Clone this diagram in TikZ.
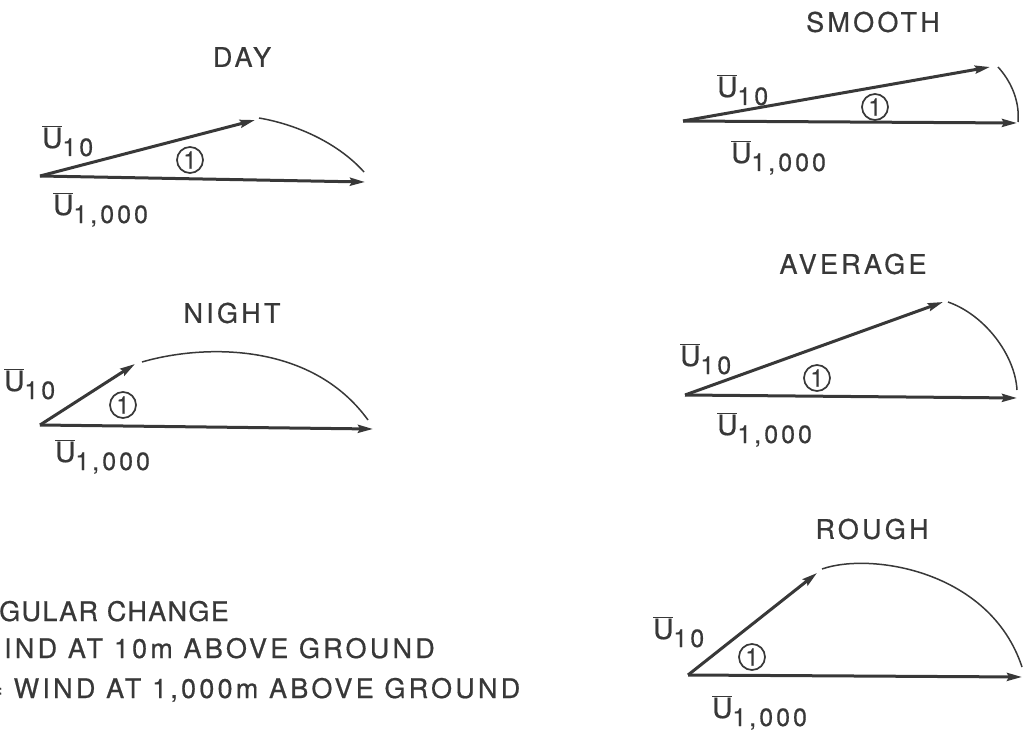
\documentclass[tikz,border=0pt]{standalone}
\usepackage{fontspec}
\setmainfont{TeX Gyre Heros}[FakeBold=0.6]
\newfontfamily\spacedfont{TeX Gyre Heros}[LetterSpace=12,FakeBold=0.6]
\newfontfamily\tightfont{TeX Gyre Heros}[LetterSpace=5,FakeBold=0.6]
\usetikzlibrary{arrows.meta}
\definecolor{ink}{rgb}{0.22,0.22,0.22}
\newcommand\Ubar[1]{\fontsize{28}{28}\selectfont$\overline{\mbox{U}}$\raisebox{-8pt}{\spacedfont\fontsize{25}{25}\selectfont #1}}
\tikzset{
  vec/.style={draw=ink, line width=3pt, -{Stealth[length=15pt,width=8pt,inset=2pt]}},
  arcline/.style={draw=ink, line width=1.5pt},
  ttl/.style={text=ink, inner sep=0, font=\spacedfont\fontsize{27}{27}\selectfont},
  lbl/.style={text=ink, inner sep=0, anchor=base west},
  ang/.style={circle, draw=ink, text=ink, line width=1.7pt, minimum size=26pt, inner sep=0pt, font=\fontsize{24}{24}\selectfont},
  legend/.style={text=ink, inner sep=0, anchor=base west, font=\spacedfont\fontsize{27}{27}\selectfont}
}
\begin{document}
\begin{tikzpicture}[x=1pt,y=-1pt]
\useasboundingbox (0,0) rectangle (1025,730);
\clip (0,0) rectangle (1025,730);
% ---------- DAY ----------
\node[ttl] (dayT) at (242,57) {DAY};
\coordinate (dO) at (40,176);
\coordinate (dA) at (255,120);
\coordinate (dB) at (365,182);
\coordinate (dS) at (259,118);
\coordinate (dE) at (364,172);
\draw[vec] (dO) -- (dA);
\draw[vec] (dO) -- (dB);
\draw[arcline] (dS) .. controls (300,125) and (340,145) .. (dE);
\node[ang] (dAng) at (190,160) {1};
\node[lbl] (dU10) at (42,148) {\Ubar{10}};
\node[lbl] (dU1k) at (53,215) {\Ubar{1,000}};
% ---------- NIGHT ----------
\node[ttl] (nightT) at (232,313) {NIGHT};
\coordinate (nO) at (40,425);
\coordinate (nA) at (135,364);
\coordinate (nB) at (373,429);
\coordinate (nS) at (142,362);
\coordinate (nE) at (368,420);
\draw[vec] (nO) -- (nA);
\draw[vec] (nO) -- (nB);
\draw[arcline] (nS) .. controls (200,345) and (310,340) .. (nE);
\node[ang] (nAng) at (123,405) {1};
\node[lbl] (nU10) at (4,391) {\Ubar{10}};
\node[lbl] (nU1k) at (55,462) {\Ubar{1,000}};
% ---------- SMOOTH ----------
\node[ttl] (smT) at (873,22) {SMOOTH};
\coordinate (sO) at (683,121);
\coordinate (sA) at (990,67);
\coordinate (sB) at (1017,123);
\coordinate (sS) at (998,67);
\coordinate (sE) at (1018,122);
\draw[vec] (sO) -- (sA);
\draw[vec] (sO) -- (sB);
\draw[arcline] (sS) .. controls (1010,80) and (1020,100) .. (sE);
\node[ang] (sAng) at (875,107) {1};
\node[lbl] (sU10) at (717,97) {\Ubar{10}};
\node[lbl] (sU1k) at (731,163) {\Ubar{1,000}};
% ---------- AVERAGE ----------
\node[ttl] (avT) at (853,264) {AVERAGE};
\coordinate (aO) at (685,395);
\coordinate (aA) at (943,302);
\coordinate (aB) at (1017,398);
\coordinate (aS) at (948,302);
\coordinate (aE) at (1017,390);
\draw[vec] (aO) -- (aA);
\draw[vec] (aO) -- (aB);
\draw[arcline] (aS) .. controls (985,315) and (1015,355) .. (aE);
\node[ang] (aAng) at (817,378) {1};
\node[lbl] (aU10) at (680,366) {\Ubar{10}};
\node[lbl] (aU1k) at (717,435) {\Ubar{1,000}};
% ---------- ROUGH ----------
\node[ttl] (roT) at (872,529) {ROUGH};
\coordinate (rO) at (688,675);
\coordinate (rA) at (817,573);
\coordinate (rB) at (1022,677);
\coordinate (rS) at (822,569);
\coordinate (rE) at (1022,667);
\draw[vec] (rO) -- (rA);
\draw[vec] (rO) -- (rB);
\draw[arcline] (rS) .. controls (870,552) and (990,570) .. (rE);
\node[ang] (rAng) at (752,657) {1};
\node[lbl] (rU10) at (653,639) {\Ubar{10}};
\node[lbl] (rU1k) at (712,718) {\Ubar{1,000}};
% ---------- legend ----------
\node[legend, font=\tightfont\fontsize{27}{27}\selectfont] (leg1) at (-1,621) {GULAR CHANGE};
\node[legend] (leg2) at (4,658) {IND AT 10m ABOVE GROUND};
\node[legend] (leg3) at (-13,698) {= WIND AT 1,000m ABOVE GROUND};
\end{tikzpicture}
\end{document}
